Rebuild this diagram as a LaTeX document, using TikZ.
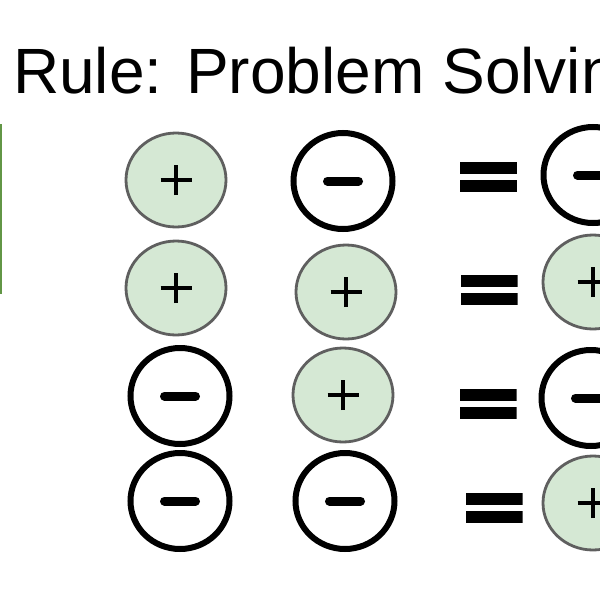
\documentclass[tikz,border=0pt]{standalone}
\usepackage{fontspec}
\setmainfont{Liberation Sans}
\usetikzlibrary{shapes.geometric,positioning}
\definecolor{ballfill}{HTML}{D5E8D4}
\definecolor{balledge}{HTML}{5F5F5F}
\definecolor{framegreen}{RGB}{98,150,70}
\tikzset{plusball/.style={ellipse,draw=balledge,fill=ballfill,line width=2.8pt,minimum width=100pt,minimum height=94pt,inner sep=0pt,
    path picture={\draw[line width=4.6pt,black] ([xshift=-15.5pt]path picture bounding box.center) -- ([xshift=15.5pt]path picture bounding box.center)
      ([yshift=-15pt]path picture bounding box.center) -- ([yshift=15pt]path picture bounding box.center);}},
  minusball/.style={ellipse,draw=black,fill=white,line width=6pt,minimum width=99pt,minimum height=96pt,inner sep=0pt,
    path picture={\draw[line width=9pt,line cap=round] ([xshift=-15.5pt]path picture bounding box.center) -- ([xshift=15.5pt]path picture bounding box.center);}},
  eqsign/.style={minimum width=57pt,minimum height=30pt,inner sep=0pt,
    path picture={\fill (path picture bounding box.north west) rectangle ([yshift=-12pt]path picture bounding box.north east);
      \fill (path picture bounding box.south west) rectangle ([yshift=12pt]path picture bounding box.south east);}}}

\begin{document}
\begin{tikzpicture}[x=1pt,y=-1pt]
\useasboundingbox (0,0) rectangle (600,600);
\clip (0,0) rectangle (600,600);
\fill[white] (0,0) rectangle (600,600);
% title and the frame edge at the left
\node[anchor=base west,inner sep=0pt,font=\fontsize{64}{70}\selectfont] (title) at (13,93) {Rule: Problem Solving};
\draw[framegreen,line width=2.5pt] (-20,125) rectangle (1.2,293);
% row 1
\node[plusball] (a1) at (176,180) {};
\node[minusball] (b1) at (343,181) {};
\node[eqsign] (e1) at (488.5,177) {};
\node[minusball] (c1) at (593,175) {};
% row 2
\node[plusball] (a2) at (176,288) {};
\node[plusball] (b2) at (346,292) {};
\node[eqsign] (e2) at (489,290) {};
\node[plusball] (c2) at (593,282) {};
% row 3
\node[minusball] (a3) at (180,396) {};
\node[plusball] (b3) at (343,395) {};
\node[eqsign] (e3) at (488,404) {};
\node[minusball] (c3) at (591,398) {};
% row 4
\node[minusball] (a4) at (180,501) {};
\node[minusball] (b4) at (345,501) {};
\node[eqsign] (e4) at (494,508) {};
\node[plusball] (c4) at (593,503) {};
\end{tikzpicture}
\end{document}
